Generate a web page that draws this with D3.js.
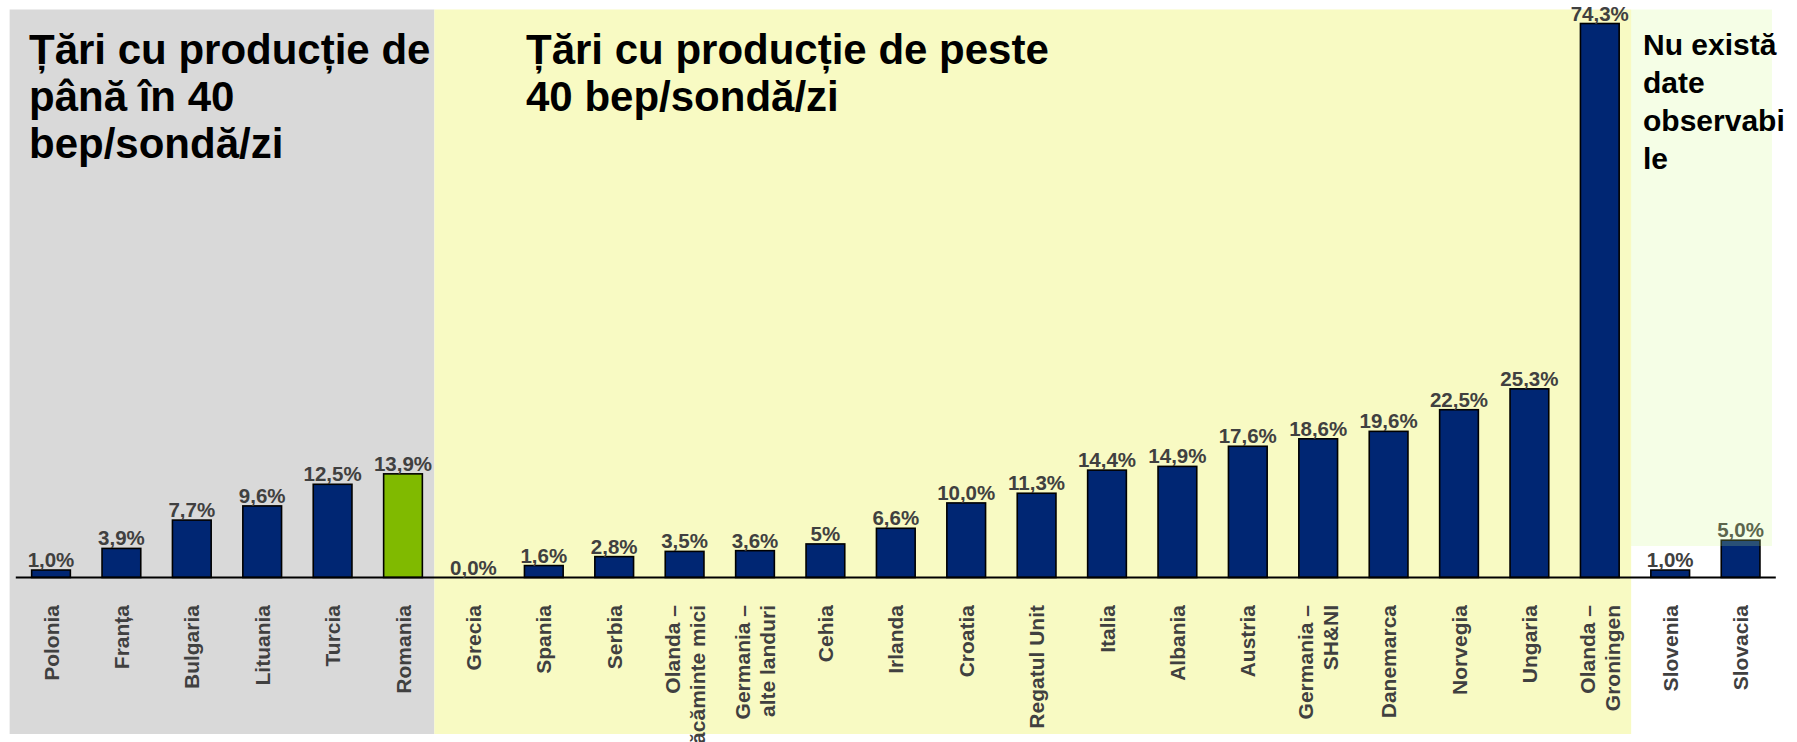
<!DOCTYPE html>
<html>
<head>
<meta charset="utf-8">
<script src="https://cdn.jsdelivr.net/npm/d3@7"></script>
<style>
  body { margin: 0; background: #fff; }
  svg { display: block; font-family: "Liberation Sans", Arial, sans-serif; }
</style>
</head>
<body>
<div id="chart-area"></div>
<script>
// data
let categories = ["Polonia", "Franța", "Bulgaria", "Lituania", "Turcia", "Romania",
    "Grecia", "Spania", "Serbia", "Olanda –\nzăcăminte mici", "Germania –\nalte landuri",
    "Cehia", "Irlanda", "Croatia", "Regatul Unit", "Italia", "Albania", "Austria",
    "Germania –\nSH&NI", "Danemarca", "Norvegia", "Ungaria", "Olanda –\nGroningen",
    "Slovenia", "Slovacia"];
let values = [1.0, 3.9, 7.7, 9.6, 12.5, 13.9, 0.0, 1.6, 2.8, 3.5, 3.6, 4.5, 6.6, 10.0,
    11.3, 14.4, 14.9, 17.6, 18.6, 19.6, 22.5, 25.3, 74.3, 1.0, 5.0];
let valueLabels = ["1,0%", "3,9%", "7,7%", "9,6%", "12,5%", "13,9%", "0,0%", "1,6%",
    "2,8%", "3,5%", "3,6%", "5%", "6,6%", "10,0%", "11,3%", "14,4%", "14,9%", "17,6%",
    "18,6%", "19,6%", "22,5%", "25,3%", "74,3%", "1,0%", "5,0%"];
let highlighted = ["Romania"];

// background groups
let groupTitles = ["Țări cu producție de\npână în 40\nbep/sondă/zi",
    "Țări cu producție de peste\n40 bep/sondă/zi",
    "Nu există\ndate\nobservabi\nle"];
let groupFirst = ["Polonia", "Grecia", "Slovenia"];
let groupLast = ["Romania", "Olanda –\nGroningen", "Slovacia"];

let width = 1797, height = 742;
let baseY = 577.5;

let svg = d3.select("#chart-area")
    .append("svg")
    .attr("width", width)
    .attr("height", height);

let x = d3.scaleBand()
    .domain(categories)
    .range([15.8, 1775.8])
    .paddingInner(0.45)
    .paddingOuter(0.225);

let y = d3.scaleLinear()
    .domain([0, d3.max(values)])
    .range([baseY, 23.5]);

let data = categories.map((c, i) => ({cat: c, v: values[i], label: valueLabels[i]}));

// panels
let panelLeft = i => x(groupFirst[i]) - 22;
let panelRight = i => x(groupLast[i]) + x.bandwidth() + 12;

svg.append("rect")
    .attr("x", panelLeft(0)).attr("y", 9.5)
    .attr("width", panelRight(0) - panelLeft(0))
    .attr("height", 734 - 9.5)
    .attr("fill", "#d9d9d9");

svg.append("rect")
    .attr("x", panelRight(0)).attr("y", 9.5)
    .attr("width", panelRight(1) - panelRight(0))
    .attr("height", 734 - 9.5)
    .attr("fill", "#f8fac3");

// bars
svg.selectAll("rect.bar")
    .data(data)
    .enter().append("rect")
    .attr("class", "bar")
    .attr("x", d => x(d.cat))
    .attr("y", d => y(d.v))
    .attr("width", x.bandwidth())
    .attr("height", d => baseY - y(d.v))
    .attr("fill", d => highlighted.includes(d.cat) ? "#80ba00" : "#002673")
    .attr("stroke", "#000")
    .attr("stroke-width", d => d.v > 0 ? 1.6 : 0);

// axis line
svg.append("line")
    .attr("x1", x.range()[0]).attr("x2", x.range()[1])
    .attr("y1", baseY).attr("y2", baseY)
    .attr("stroke", "#000")
    .attr("stroke-width", 2);

// value labels
svg.selectAll("text.value")
    .data(data)
    .enter().append("text")
    .attr("class", "value")
    .attr("x", d => x(d.cat) + x.bandwidth() / 2)
    .attr("y", d => y(d.v) - 3)
    .attr("text-anchor", "middle")
    .attr("font-size", "20.5px")
    .attr("font-weight", "bold")
    .attr("fill", "#404040")
    .text(d => d.label);

// category labels, rotated, lines anchored at the top
let catG = svg.selectAll("text.cat")
    .data(data)
    .enter().append("text")
    .attr("class", "cat")
    .attr("transform", d => "translate(" + (x(d.cat) + x.bandwidth() / 2) + ",605) rotate(-90)")
    .attr("text-anchor", "end")
    .attr("font-size", "21px")
    .attr("font-weight", "bold")
    .attr("fill", "#404040");

catG.each(function(d) {
    let lines = d.cat.split("\n");
    let t = d3.select(this);
    lines.forEach((l, i) => {
        t.append("tspan")
            .attr("x", 0)
            .attr("y", (i - (lines.length - 1) / 2) * 25 + 7.5)
            .text(l);
    });
});

// pale panel for the last group, drawn translucent over the bars
svg.append("rect")
    .attr("x", panelRight(1)).attr("y", 9.5)
    .attr("width", panelRight(2) - panelRight(1))
    .attr("height", 546 - 9.5)
    .attr("fill", "#cdfa82")
    .attr("opacity", 0.2);

// group titles
let titleX = [29, 526, 1643];
let titleY = [64, 64, 55];
let titleSize = [42, 42, 30];
let titleLine = [47, 47, 38];

groupTitles.forEach((g, k) => {
    let t = svg.append("text")
        .attr("font-size", titleSize[k] + "px")
        .attr("font-weight", "bold")
        .attr("fill", "#000");
    g.split("\n").forEach((l, i) => {
        t.append("tspan")
            .attr("x", titleX[k])
            .attr("y", titleY[k] + i * titleLine[k])
            .text(l);
    });
});
</script>
</body>
</html>
